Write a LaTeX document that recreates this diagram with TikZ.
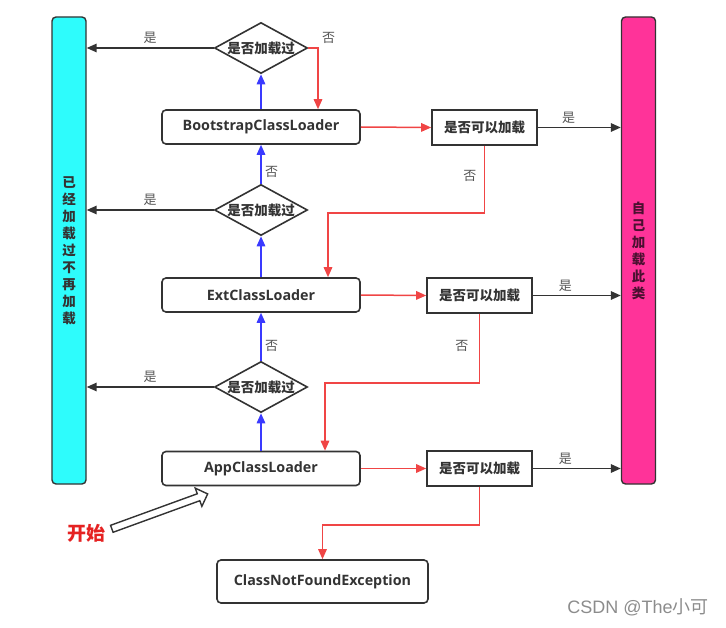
\documentclass[tikz,border=0pt]{standalone}
\usepackage{fontspec}
\setmainfont{Open Sans}
\newfontfamily\cjk{Noto Sans CJK SC}
\newfontfamily\wmfont{Liberation Sans}
\usetikzlibrary{shapes.geometric,shapes.arrows,arrows.meta}
\definecolor{darkline}{HTML}{333333}
\definecolor{labelgray}{HTML}{555555}
\definecolor{barcyan}{HTML}{2EFCFC}
\definecolor{barpink}{HTML}{FF3399}
\definecolor{pinktext}{HTML}{4A1030}
\definecolor{flowred}{HTML}{F04545}
\definecolor{flowblue}{HTML}{3A3AFF}
\definecolor{startred}{HTML}{E52222}
\begin{document}
\begin{tikzpicture}[x=1pt, y=-1pt]
	\tikzset{loader/.style={draw=darkline, line width=1.6pt, rounded corners=4pt, minimum width=198pt, minimum height=34pt, text=darkline, font=\fontsize{14.3}{16}\selectfont\bfseries},
	ask/.style={draw=darkline, line width=1.6pt, minimum width=105pt, minimum height=35pt, text=darkline, font=\cjk\fontsize{13.5}{15}\selectfont\bfseries},
	seen/.style={diamond, draw=darkline, line width=1.6pt, aspect=1.84, inner sep=-3pt, minimum width=93pt, minimum height=51pt, text=darkline, font=\cjk\fontsize{13.5}{15}\selectfont\bfseries},
	bar/.style={draw=darkline, line width=1.4pt, rounded corners=4pt, minimum width=34pt, minimum height=467pt, align=center, font=\cjk\fontsize{13.5}{17}\selectfont\bfseries},
	lbl/.style={text=labelgray, font=\cjk\fontsize{13}{15}\selectfont},
	tip/.style={-{Triangle[length=10pt, width=8.5pt]}},
	yesflow/.style={tip, draw=darkline, line width=1.5pt},
	redflow/.style={tip, draw=flowred, line width=1.5pt},
	blueflow/.style={tip, draw=flowblue, line width=1.5pt}};

	\useasboundingbox (0,0) rectangle (726,628);

	% side bars
	\node[bar, fill=barcyan, text=darkline] (lbar) at (69,250.5) {已\\经\\加\\载\\过\\不\\再\\加\\载};
	\node[bar, fill=barpink, text=pinktext] (rbar) at (638.5,250.5) {自\\己\\加\\载\\此\\类};

	% loaders and checks
	\node[seen] (d1) at (261,48) {是否加载过};
	\node[loader] (boot) at (261,127) {BootstrapClassLoader};
	\node[ask] (q1) at (484.5,127.5) {是否可以加载};
	\node[seen] (d2) at (261,210) {是否加载过};
	\node[loader] (ext) at (261,295) {ExtClassLoader};
	\node[ask] (q2) at (479.5,295.5) {是否可以加载};
	\node[seen] (d3) at (261,387) {是否加载过};
	\node[loader] (app) at (261,468.5) {AppClassLoader};
	\node[ask] (q3) at (479.5,468.5) {是否可以加载};
	\node[loader, minimum width=211pt, minimum height=43pt] (cnf) at (322.5,581.5) {ClassNotFoundException};

	% start
	\node[text=startred, font=\cjk\fontsize{19}{21}\selectfont\bfseries] (go) at (86,533) {开始};
	\node[single arrow, draw=darkline, fill=white, line width=1.4pt, inner sep=3pt, minimum height=102pt, single arrow head extend=6pt, rotate=20] (start) at (158,512) {};

	% already loaded
	\draw[yesflow] (d1.west) to node[lbl, above] {是} (d1.west -| lbar.east);
	\draw[yesflow] (d2.west) to node[lbl, above] {是} (d2.west -| lbar.east);
	\draw[yesflow] (d3.west) to node[lbl, above] {是} (d3.west -| lbar.east);

	% delegate upwards
	\draw[blueflow] (app.north) to (d3.south);
	\draw[blueflow] (d3.north) to node[lbl, right, pos=0.3] {否} (ext.south);
	\draw[blueflow] (ext.north) to (d2.south);
	\draw[blueflow] (d2.north) to node[lbl, right, pos=0.3] {否} (boot.south);
	\draw[blueflow] (boot.north) to (d1.south);

	% try to load
	\draw[redflow] (d1.east) -| node[lbl, above right, pos=0.5] {否} ([xshift=57pt]boot.north);
	\draw[redflow] (boot.east) to (q1.west);
	\draw[redflow] (ext.east) to (q2.west);
	\draw[redflow] (app.east) to (q3.west);
	\draw[redflow] (q1.south) -- node[lbl, left, pos=0.45, xshift=-4pt] {否} ++(0,67) -| ([xshift=67pt]ext.north);
	\draw[redflow] (q2.south) -- node[lbl, left, pos=0.46, xshift=-7pt] {否} ++(0,69) -| ([xshift=64pt]app.north);
	\draw[redflow] (q3.south) -- ++(0,38) -| (cnf.north);

	% loaded by itself
	\draw[yesflow] (q1.east) to node[lbl, above, pos=0.37] {是} (q1.east -| rbar.west);
	\draw[yesflow] (q2.east) to node[lbl, above, pos=0.37] {是} (q2.east -| rbar.west);
	\draw[yesflow] (q3.east) to node[lbl, above, pos=0.37] {是} (q3.east -| rbar.west);

	\node[text=black!45, font=\fontsize{18}{20}\selectfont] (wm) at (638,607) {\wmfont CSDN @The\cjk 小可};
\end{tikzpicture}
\end{document}
